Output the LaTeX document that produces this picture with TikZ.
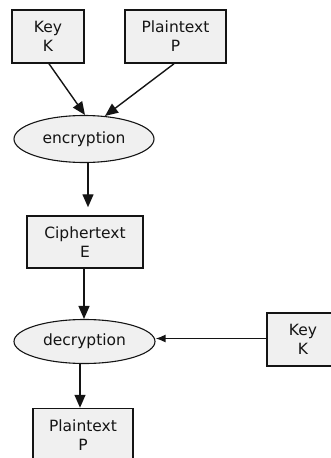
\documentclass[tikz,border=0pt]{standalone}
\usepackage{fontspec}
\usetikzlibrary{shapes.geometric,arrows.meta}
\newfontfamily\dvsans{DejaVu Sans}
\definecolor{boxfill}{HTML}{F0F0F0}
\definecolor{inkc}{HTML}{141414}
\tikzset{
  txt/.style={font=\dvsans\fontsize{15.5}{19}\selectfont, text=inkc, align=center, inner sep=0pt},
  boxn/.style={txt, draw=inkc, fill=boxfill, line width=1.5pt, rectangle, minimum height=53pt},
  elln/.style={txt, draw=inkc, fill=boxfill, line width=1.1pt, ellipse},
  arr/.style={draw=inkc, line width=1.4pt, -{Triangle[length=13pt,width=11pt]}},
  arrsmall/.style={draw=inkc, line width=1.5pt, -{Latex[length=10pt,width=8pt]}}
}
\begin{document}
\begin{tikzpicture}[x=1pt,y=-1pt]
\useasboundingbox (0,0) rectangle (331,458);
\clip (0,0) rectangle (331,458);
\node[boxn, minimum width=72pt] (key1) at (48,36.5) {Key\\K};
\node[boxn, minimum width=101pt] (pt1) at (175.5,36.5) {Plaintext\\P};
\node[elln, minimum width=140pt, minimum height=47pt] (enc) at (84,139) {encryption};
\node[boxn, minimum width=116pt, minimum height=52pt] (ciph) at (85,242) {Ciphertext\\E};
\node[elln, minimum width=141pt, minimum height=44pt] (dec) at (84.5,341.5) {decryption};
\node[boxn, minimum width=72pt] (key2) at (303,339.5) {Key\\K};
\node[boxn, minimum width=100pt] (pt2) at (83,435) {Plaintext\\P};

\draw[arr] ([xshift=1pt]key1.south) -- ([xshift=1pt]enc.north);
\draw[arr] ([xshift=-1.5pt]pt1.south) -- ([xshift=21pt,yshift=-1pt]enc.north);
\draw[arr, shorten >=8pt] ([xshift=4pt]enc.south) -- ([xshift=4pt]enc.south |- ciph.north);
\draw[arr] ([xshift=-1pt]ciph.south) -- ([xshift=-1pt]ciph.south |- dec.north);
\draw[arr] ([xshift=-4.5pt]dec.south) -- ([xshift=-4.5pt]dec.south |- pt2.north);
\draw[arrsmall] ([yshift=1pt]key2.west) -- ([yshift=1pt]key2.west -| dec.east);
\end{tikzpicture}
\end{document}
